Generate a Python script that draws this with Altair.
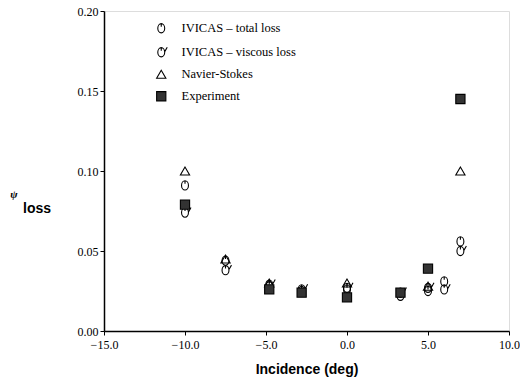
import altair as alt
import pandas as pd

series_names = ["IVICAS \u2013 total loss", "IVICAS \u2013 viscous loss", "Navier-Stokes", "Experiment"]

total_x = [-10, -7.5, -4.8, -2.8, 0, 3.3, 5, 6, 7]
total_y = [0.091, 0.044, 0.028, 0.025, 0.026, 0.022, 0.025, 0.031, 0.056]

visc_x = [-10, -7.5, -4.8, -2.8, 0, 3.3, 5, 6, 7]
visc_y = [0.074, 0.038, 0.029, 0.026, 0.027, 0.024, 0.027, 0.026, 0.050]

ns_x = [-10, -7.5, -4.8, 0, 5, 7]
ns_y = [0.100, 0.045, 0.030, 0.030, 0.028, 0.100]

exp_x = [-10, -4.8, -2.8, 0, 3.3, 5, 7]
exp_y = [0.079, 0.026, 0.024, 0.021, 0.024, 0.039, 0.145]

x_ticks = [-15, -10, -5, 0, 5, 10]
y_ticks = [0.0, 0.05, 0.10, 0.15, 0.20]

rows = []
for name, xs, ys in zip(series_names, [total_x, visc_x, ns_x, exp_x], [total_y, visc_y, ns_y, exp_y]):
    for a, b in zip(xs, ys):
        rows.append({"incidence": a, "loss": b, "series": name})
df = pd.DataFrame(rows)

circle_tick = "M -0.75 0 A 0.75 1 0 1 1 0.75 0 A 0.75 1 0 1 1 -0.75 0 Z M 0 -1 L 0 -0.35"
circle_check = circle_tick + " M 0.6 -0.45 L 0.85 -0.3 L 1.3 -1.1"

serif = "Liberation Serif"
sans = "Liberation Sans"

legend_cfg = dict(title=None, orient="none", legendX=51, legendY=11,
                  labelFont=serif, labelFontSize=12.5, labelColor="black",
                  symbolSize=85, symbolStrokeWidth=1.1, symbolOpacity=1,
                  labelOffset=14, rowPadding=8)

points = alt.Chart(df).mark_point(
    filled=False, strokeWidth=1.1, size=85, opacity=1
).encode(
    x=alt.X("incidence:Q",
            scale=alt.Scale(domain=[-15, 10], nice=False, zero=False),
            axis=alt.Axis(values=x_ticks, format=".1f", title="Incidence (deg)",
                          grid=False, tickSize=4, labelFont=serif, labelFontSize=12,
                          labelColor="black", titleFont=sans, titleFontSize=14,
                          titleFontWeight="bold", titleColor="black", titlePadding=12,
                          domainColor="black", tickColor="black", domainWidth=1.5,
                          labelPadding=4, labelFlush=False)),
    y=alt.Y("loss:Q",
            scale=alt.Scale(domain=[0, 0.2], nice=False),
            axis=alt.Axis(values=y_ticks, format=".2f", title=None,
                          grid=False, tickSize=4, labelFont=serif, labelFontSize=12,
                          labelColor="black", domainColor="black", tickColor="black",
                          domainWidth=1.5, labelPadding=2)),
    shape=alt.Shape("series:N",
                    scale=alt.Scale(domain=series_names,
                                    range=[circle_tick, circle_check, "triangle-up", "square"]),
                    legend=alt.Legend(**legend_cfg)),
    fill=alt.Fill("series:N",
                  scale=alt.Scale(domain=series_names,
                                  range=["transparent", "transparent", "transparent", "#333333"]),
                  legend=alt.Legend(**legend_cfg)),
    stroke=alt.Stroke("series:N",
                      scale=alt.Scale(domain=series_names,
                                      range=["black", "black", "black", "black"]),
                      legend=alt.Legend(**legend_cfg)),
)

psi = alt.Chart(pd.DataFrame({"t": ["\u03c8"]})).mark_text(
    font=serif, fontSize=11, fontWeight="bold", fontStyle="italic", color="black", align="center"
).encode(text="t:N", x=alt.value(-90), y=alt.value(184))

loss_lbl = alt.Chart(pd.DataFrame({"t": ["loss"]})).mark_text(
    font=sans, fontSize=14, fontWeight="bold", color="black", align="left"
).encode(text="t:N", x=alt.value(-81), y=alt.value(198))

chart = alt.layer(points, psi, loss_lbl).properties(
    width=405, height=320,
    autosize=alt.AutoSizeParams(type="none"),
    padding={"left": 104, "top": 11, "right": 11, "bottom": 52},
).configure_view(stroke="black", strokeWidth=1.5).configure(background="white")

chart.save("out.html", embed_options={"renderer": "svg", "actions": False})
